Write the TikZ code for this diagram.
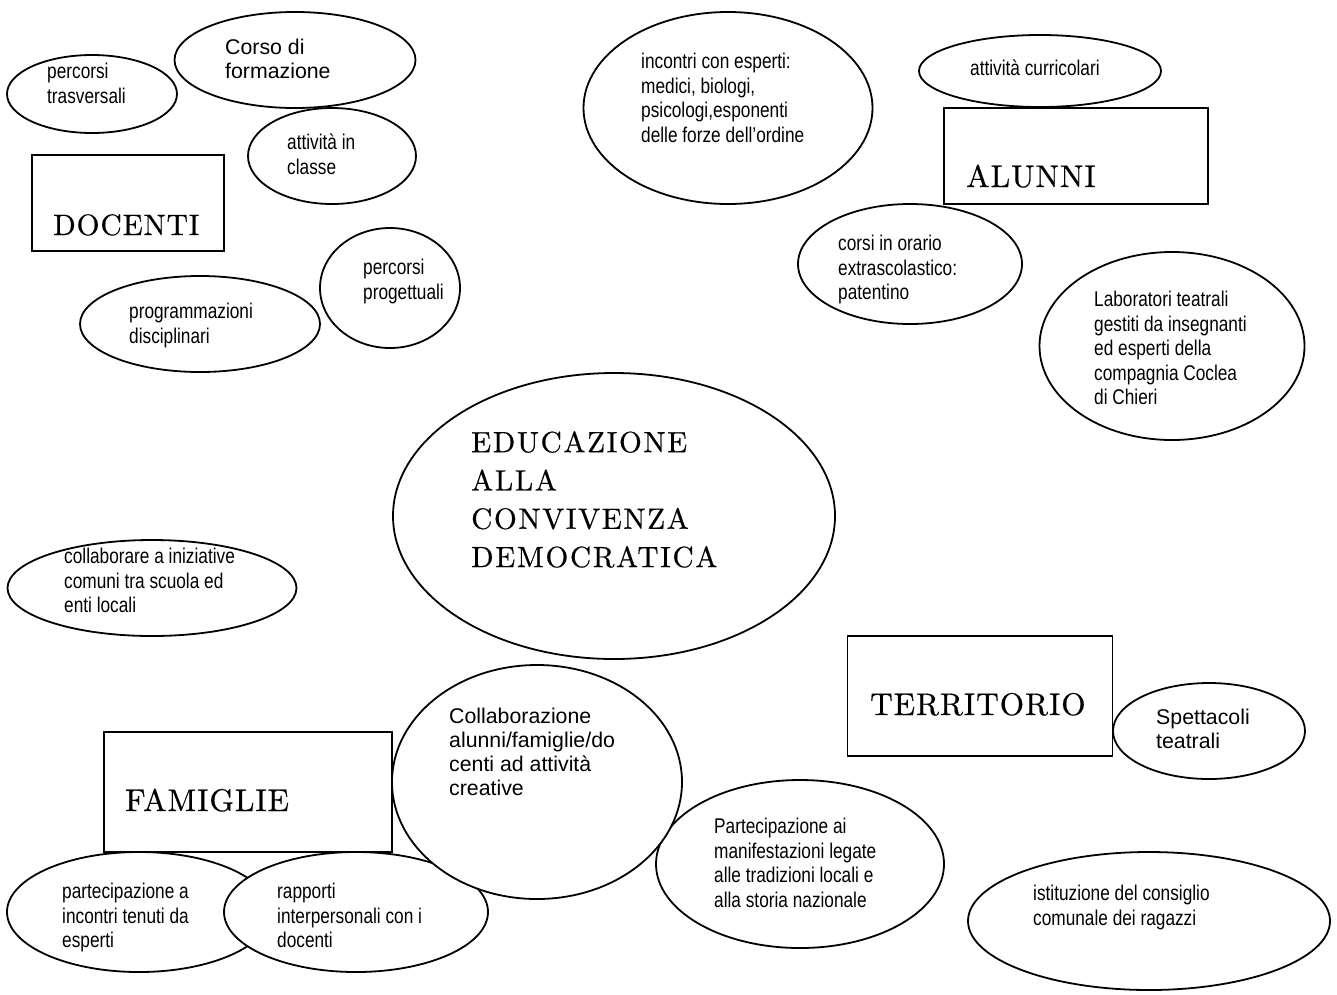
\documentclass[tikz,border=0pt]{standalone}
\usepackage{fontspec}
\usetikzlibrary{shapes.geometric}
\newfontfamily\narrowsans{Liberation Sans}[FakeStretch=0.81]
\newfontfamily\plainsans{Liberation Sans}
\newfontfamily\headserif{lmroman10-regular}[Extension=.otf, LetterSpace=3, FakeBold=0.6]
\newfontfamily\centreserif{lmroman10-regular}[Extension=.otf, LetterSpace=5.8, FakeBold=0.6]

\begin{document}
\begin{tikzpicture}[x=1pt, y=-1pt,
	bubble/.style={ellipse, draw, fill=white, line width=1.8pt, inner sep=0pt},
	panel/.style={rectangle, draw, fill=white, line width=1.8pt, inner sep=0pt},
	note/.style={anchor=north west, inner sep=0pt, align=left, execute at begin node=\strut,
		font=\narrowsans\fontsize{21.3}{24.5}\selectfont},
	plainnote/.style={note, font=\plainsans\fontsize{21.3}{24}\selectfont},
	title/.style={anchor=base west, inner sep=0pt, font=\headserif\fontsize{31.3}{36}\selectfont},
	maintitle/.style={note, font=\centreserif\fontsize{29.3}{38.3}\selectfont}]
	\path[use as bounding box, fill=white] (0,0) rectangle (1337,994);
	% Docenti
	\node[bubble, minimum width=170pt, minimum height=78pt] (trasv) at (92,94) {};
	\node[note] (trasv-t) at (47,63) {percorsi\\trasversali};
	\node[bubble, minimum width=241pt, minimum height=96pt] (corso) at (295,60) {};
	\node[plainnote] (corso-t) at (225,39) {Corso di\\formazione};
	\node[bubble, minimum width=168pt, minimum height=96pt] (classe) at (332,156) {};
	\node[note] (classe-t) at (287,134) {attività in\\classe};
	\node[panel, minimum width=192pt, minimum height=96pt] (docenti) at (128,203) {};
	\node[title, font=\headserif\fontsize{29.5}{34}\selectfont] (docenti-t) at (53,235) {DOCENTI};
	\node[bubble, minimum width=140pt, minimum height=120pt] (progett) at (390,288) {};
	\node[note] (progett-t) at (363,259) {percorsi\\progettuali};
	\node[bubble, minimum width=240pt, minimum height=96pt] (programm) at (200,324) {};
	\node[note] (programm-t) at (129,303) {programmazioni\\disciplinari};
	% Alunni
	\node[bubble, minimum width=289pt, minimum height=192pt] (esperti) at (728,108) {};
	\node[note] (esperti-t) at (641,53) {incontri con esperti:\\medici, biologi,\\psicologi,esponenti\\delle forze dell’ordine};
	\node[bubble, minimum width=242pt, minimum height=72pt] (curric) at (1040,71) {};
	\node[note] (curric-t) at (970,58) {attività curricolari};
	\node[panel, minimum width=264pt, minimum height=96pt] (alunni) at (1076,156) {};
	\node[title] (alunni-t) at (966,187) {ALUNNI};
	\node[bubble, minimum width=224pt, minimum height=120pt] (orario) at (910,264) {};
	\node[note] (orario-t) at (838,235) {corsi in orario\\extrascolastico:\\patentino};
	\node[bubble, minimum width=265pt, minimum height=188pt] (labor) at (1172,346) {};
	\node[note] (labor-t) at (1094,291) {Laboratori teatrali\\gestiti da insegnanti\\ed esperti della\\compagnia Coclea\\di Chieri};
	% centro
	\node[bubble, minimum width=442pt, minimum height=286pt] (centro) at (614,516) {};
	\node[maintitle] (centro-t) at (471,431) {EDUCAZIONE\\ALLA\\CONVIVENZA\\DEMOCRATICA};
	\node[bubble, minimum width=289pt, minimum height=96pt] (enti) at (152,588) {};
	\node[note] (enti-t) at (64,548) {collaborare a iniziative\\comuni tra scuola ed\\enti locali};
	% Famiglie
	\node[panel, minimum width=288pt, minimum height=120pt] (famiglie) at (248,792) {};
	\node[title] (famiglie-t) at (125,811) {FAMIGLIE};
	\node[bubble, minimum width=264pt, minimum height=120pt] (incontri) at (139,912) {};
	\node[note] (incontri-t) at (62,883) {partecipazione a\\incontri tenuti da\\esperti};
	\node[bubble, minimum width=264pt, minimum height=120pt] (rapporti) at (356,912) {};
	\node[note] (rapporti-t) at (277,883) {rapporti\\interpersonali con i\\docenti};
	% Territorio
	\node[bubble, minimum width=288pt, minimum height=168pt] (tradiz) at (800,864) {};
	\node[note] (tradiz-t) at (714,818) {Partecipazione ai\\manifestazioni legate\\alle tradizioni locali e\\alla storia nazionale};
	\node[bubble, minimum width=290pt, minimum height=234pt] (creative) at (537,782) {};
	\node[plainnote] (creative-t) at (449,708) {Collaborazione\\alunni/famiglie/do\\centi ad attività\\creative};
	\node[panel, minimum width=265pt, minimum height=120pt] (territorio) at (980,696) {};
	\node[title] (territorio-t) at (870,715) {TERRITORIO};
	\node[bubble, minimum width=192pt, minimum height=96pt] (spett) at (1209,731) {};
	\node[plainnote] (spett-t) at (1156,709) {Spettacoli\\teatrali};
	\node[bubble, minimum width=362pt, minimum height=138pt] (consiglio) at (1149,921) {};
	\node[note] (consiglio-t) at (1033,885) {istituzione del consiglio\\comunale dei ragazzi};
\end{tikzpicture}
\end{document}
